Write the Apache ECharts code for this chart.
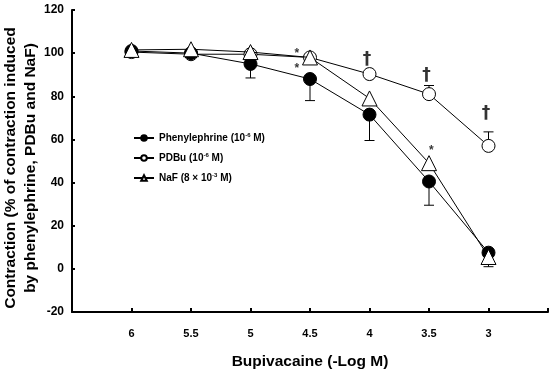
<!DOCTYPE html>
<html>
<head>
<meta charset="utf-8">
<script src="https://cdn.jsdelivr.net/npm/echarts@6/dist/echarts.min.js"></script>
<style>
  html, body { margin: 0; padding: 0; background: #fff; }
  #chart { width: 554px; height: 373px; }
</style>
</head>
<body>
<div id="chart"></div>
<script>
// bupivacaine concentrations (-log M)
var doses = [6, 5.5, 5, 4.5, 4, 3.5, 3];

var phenylephrine = [101, 100, 95, 88, 71.5, 40.5, 7.5];
var phenylephrineErr = [0, 0, 6.5, 10, 12, 11, 0];   // drawn downward

var pdbu = [100.5, 99.5, 99.5, 98, 90.3, 81, 57];
var pdbuErr = [0, 0, 0, 0, 0, 4, 6.5];               // drawn upward

var naf = [101.5, 101.8, 100.5, 98, 79, 49, 5.5];
var nafErr = [0, 0, 0, 0, 0, 3, 4.5];                // drawn downward

// significance marks
var markX = [4.61, 4.61, 4.02, 3.52, 3.02, 3.48];
var markY = [101, 94, 97, 89.5, 72, 56];
var markText = ['*', '*', '†', '†', '†', '*'];

var legendNames = ['Phenylephrine (10⁻⁶ M)', 'PDBu (10⁻⁶ M)', 'NaF (8 × 10⁻³ M)'];
var legendRich = [
  '{a|Phenylephrine (10}{sup|-6}{a| M)}',
  '{a|PDBu (10}{sup|-6}{a| M)}',
  '{a|NaF (8 × 10}{sup|-3}{a| M)}'
];

var yTicks = { min: -20, max: 120, step: 20 };

var font = '"Liberation Sans", Arial, sans-serif';

function pairs(vals) {
  return doses.map(function (d, i) { return [d, vals[i]]; });
}

function errSeries(vals, errs, dir) {
  return {
    type: 'custom',
    silent: true,
    z: 1,
    data: doses.map(function (d, i) { return [d, vals[i], errs[i]]; }),
    renderItem: function (params, api) {
      var e = api.value(2);
      if (!e) return null;
      var p0 = api.coord([api.value(0), api.value(1)]);
      var p1 = api.coord([api.value(0), api.value(1) + dir * e]);
      var style = { stroke: '#000', lineWidth: 1 };
      return {
        type: 'group',
        children: [
          { type: 'line', shape: { x1: p0[0], y1: p0[1], x2: p1[0], y2: p1[1] }, style: style },
          { type: 'line', shape: { x1: p1[0] - 5, y1: p1[1], x2: p1[0] + 5, y2: p1[1] }, style: style }
        ]
      };
    }
  };
}

function lineSeries(name, vals, symbol, fill, size, z) {
  return {
    name: name,
    type: 'line',
    data: pairs(vals),
    symbol: symbol,
    symbolSize: size,
    z: z,
    lineStyle: { color: '#000', width: 1 },
    itemStyle: { color: fill, borderColor: '#000', borderWidth: 1 }
  };
}

var chart = echarts.init(document.getElementById('chart'), null, { renderer: 'canvas' });

chart.setOption({
  animation: false,
  backgroundColor: '#fff',
  textStyle: { fontFamily: font },
  grid: { left: 72, right: 6, top: 10, bottom: 61, containLabel: false, outerBoundsMode: 'none' },
  legend: {
    orient: 'vertical',
    left: 128,
    top: 127,
    itemGap: 9,
    itemWidth: 20,
    itemHeight: 7,
    data: legendNames,
    formatter: function (name) { return legendRich[legendNames.indexOf(name)]; },
    textStyle: {
      fontFamily: font, fontWeight: 'bold', fontSize: 10, color: '#000',
      rich: {
        a: { fontFamily: font, fontWeight: 'bold', fontSize: 10, color: '#000' },
        sup: { fontFamily: font, fontWeight: 'bold', fontSize: 6, color: '#000', padding: [0, 0, 6, 0] }
      }
    }
  },
  xAxis: {
    type: 'value',
    inverse: true,
    min: 2.5,
    max: 6.5,
    interval: 0.5,
    name: 'Bupivacaine (-Log M)',
    nameLocation: 'middle',
    nameGap: 42,
    nameMoveOverlap: false,
    nameTextStyle: { fontFamily: font, fontWeight: 'bold', fontSize: 15.5, color: '#000' },
    axisLine: { onZero: false, lineStyle: { color: '#000', width: 2 } },
    axisTick: { inside: true, length: 4, lineStyle: { color: '#000', width: 2 } },
    axisLabel: {
      margin: 16,
      fontFamily: font, fontWeight: 'bold', fontSize: 11, color: '#000',
      formatter: function (v) { return (v < 3 || v > 6) ? '' : String(v); }
    },
    splitLine: { show: false }
  },
  yAxis: {
    type: 'value',
    min: yTicks.min,
    max: yTicks.max,
    interval: yTicks.step,
    name: 'Contraction (% of contraction induced\nby phenylephrine, PDBu and NaF)',
    nameLocation: 'middle',
    nameGap: 31,
    nameMoveOverlap: false,
    nameTextStyle: {
      fontFamily: font, fontWeight: 'bold', fontSize: 15.5, color: '#000', lineHeight: 20,
      padding: [0, 14, 0, 0]
    },
    axisLine: { show: true, onZero: false, lineStyle: { color: '#000', width: 2 } },
    axisTick: { show: true, inside: true, length: 3, lineStyle: { color: '#000', width: 2 } },
    axisLabel: { margin: 8, fontFamily: font, fontWeight: 'bold', fontSize: 12, color: '#000' },
    splitLine: { show: false }
  },
  series: [
    errSeries(phenylephrine, phenylephrineErr, -1),
    errSeries(pdbu, pdbuErr, 1),
    errSeries(naf, nafErr, -1),
    lineSeries(legendNames[0], phenylephrine, 'circle', '#000', 13, 3),
    lineSeries(legendNames[1], pdbu, 'circle', '#fff', 13, 2),
    lineSeries(legendNames[2], naf, 'triangle', '#fff', 15, 4),
    {
      type: 'scatter',
      silent: true,
      symbolSize: 0,
      z: 5,
      data: markX.map(function (x, i) { return [x, markY[i], markText[i]]; }),
      label: {
        show: true,
        position: 'inside',
        fontFamily: font,
        fontWeight: 'bold',
        color: '#000',
        rich: {
          s: { fontSize: 12, fontWeight: 'bold', fontFamily: font, padding: [5, 0, 0, 0] },
          d: { fontSize: 17, fontWeight: 'bold', fontFamily: 'DejaVu Sans' }
        },
        formatter: function (p) {
          return p.value[2] === '*' ? '{s|*}' : '{d|†}';
        }
      }
    }
  ]
});
</script>
</body>
</html>
